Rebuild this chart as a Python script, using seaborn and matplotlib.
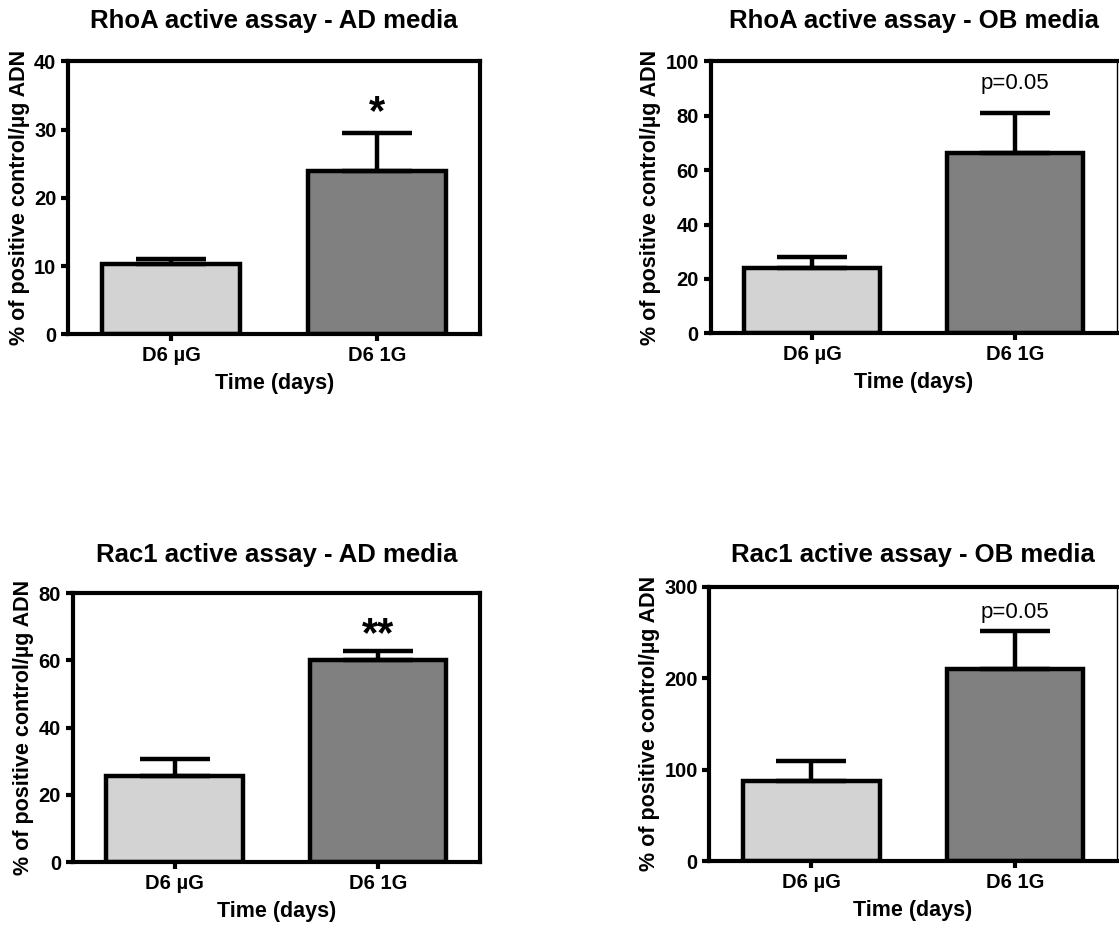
import pandas as pd
import seaborn as sns
import matplotlib.pyplot as plt

# valeurs
groups = ["D6 µG", "D6 1G"]
titles = ["RhoA active assay - AD media", "RhoA active assay - OB media",
          "Rac1 active assay - AD media", "Rac1 active assay - OB media"]
means = [[10.3, 24.0], [24.0, 66.2], [25.5, 60.0], [87.5, 209.5]]
sems = [[0.7, 5.5], [4.0, 14.8], [5.3, 2.7], [22.0, 41.5]]
ymax = [40, 100, 80, 300]
ystep = [10, 20, 20, 100]
signif = ["*", "p=0.05", "**", "p=0.05"]
signif_y = [32.5, 92, 67.5, 272]

sns.set_style("ticks")
plt.rcParams['font.family'] = ['Liberation Sans', 'DejaVu Sans']
plt.rcParams['font.weight'] = 'bold'
for k in ['text.color', 'axes.labelcolor', 'xtick.color', 'ytick.color',
          'axes.edgecolor']:
    plt.rcParams[k] = 'black'

fig = plt.figure(figsize=(11.19, 9.31), dpi=100)
positions = [[0.061, 0.641, 0.368, 0.293],
             [0.635, 0.642, 0.363, 0.292],
             [0.065, 0.074, 0.364, 0.289],
             [0.634, 0.075, 0.364, 0.295]]
title_pads = [24, 24, 22, 18]

for i in range(4):
    ax = fig.add_axes(positions[i])
    df = pd.DataFrame({"group": groups, "value": means[i]})
    sns.barplot(data=df, x="group", y="value", hue="group",
                palette=["#d3d3d3", "#808080"], width=0.67,
                edgecolor="black", linewidth=3.2, legend=False, ax=ax,
                errorbar=None)
    # erreur seulement vers le haut
    ax.errorbar([0, 1], means[i], yerr=[[0, 0], sems[i]], fmt="none",
                ecolor="black", elinewidth=3.2, capsize=25, capthick=3.2,
                zorder=1)
    ax.set_xlim(-0.5, 1.5)
    ax.set_ylim(0, ymax[i])
    ax.set_yticks(range(0, ymax[i] + 1, ystep[i]))
    ax.set_title(titles[i], fontsize=18.5, fontweight="bold",
                 pad=title_pads[i])
    ax.set_xlabel("Time (days)", fontsize=15.5, fontweight="bold", labelpad=6)
    ax.set_ylabel("% of positive control/µg ADN", fontsize=15.5,
                  fontweight="bold", labelpad=3)
    ax.tick_params(axis="both", labelsize=14.5, width=3, length=5,
                   direction="out")
    for lbl in ax.get_xticklabels() + ax.get_yticklabels():
        lbl.set_fontweight("bold")
    for s in ax.spines.values():
        s.set_visible(True)
        s.set_linewidth(3)
    if i in (1, 3):
        ax.spines["right"].set_linewidth(1)
    if signif[i].startswith("*"):
        ax.text(1, signif_y[i], signif[i], ha="center", va="center",
                fontsize=30, fontweight="bold")
    else:
        ax.text(1, signif_y[i], signif[i], ha="center", va="center",
                fontsize=16, fontweight="normal")

plt.savefig("out.png", dpi=100)
